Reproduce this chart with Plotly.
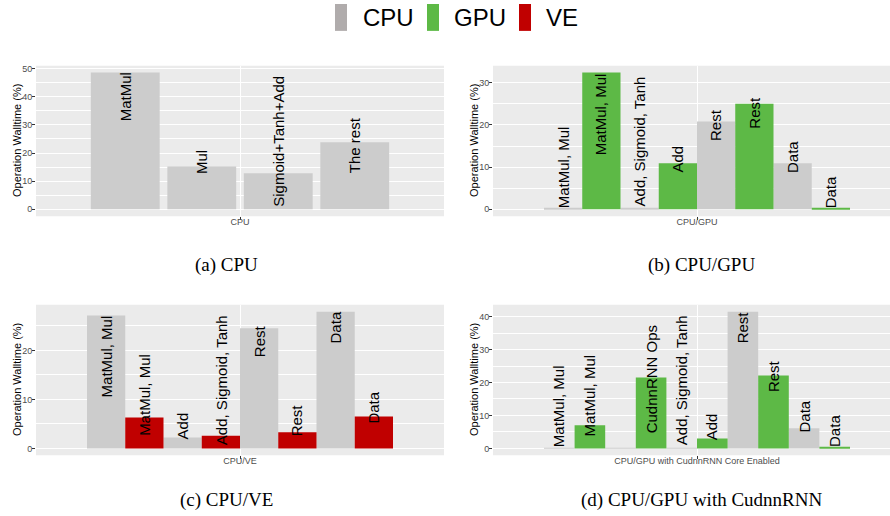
import plotly.graph_objects as go

W, H = 890, 516

COLORS = {"CPU": "#CCCCCC", "GPU": "#5DB946", "VE": "#C00000"}
LEGEND_COLORS = {"CPU": "#B0ACAC", "GPU": "#5DB946", "VE": "#C00000"}

# ---- (a) CPU ----
a_devices = ["CPU", "CPU", "CPU", "CPU"]
a_ops = ["MatMul", "Mul", "Sigmoid+Tanh+Add", "The rest"]
a_values = [48.6, 15.2, 12.8, 23.8]
a_label_mid = [39.9, 16.7, 24.1, 22.7]

# ---- (b) CPU/GPU ----
b_devices = ["CPU", "GPU", "CPU", "GPU", "CPU", "GPU", "CPU", "GPU"]
b_ops = ["MatMul, Mul", "MatMul, Mul", "Add, Sigmoid, Tanh", "Add",
         "Rest", "Rest", "Data", "Data"]
b_values = [0.15, 32.4, 0.15, 10.9, 20.8, 25.0, 10.9, 0.25]
b_label_mid = [10.0, 22.6, 16.0, 12.0, 20.0, 23.0, 12.3, 4.0]

# ---- (c) CPU/VE ----
c_devices = ["CPU", "VE", "CPU", "VE", "CPU", "VE", "CPU", "VE"]
c_ops = ["MatMul, Mul", "MatMul, Mul", "Add", "Add, Sigmoid, Tanh",
         "Rest", "Rest", "Data", "Data"]
c_values = [27.1, 6.3, 2.2, 2.6, 24.5, 3.3, 27.9, 6.5]
c_label_mid = [18.8, 11.0, 4.6, 13.9, 21.9, 5.8, 24.6, 8.3]

# ---- (d) CPU/GPU with CudnnRNN core ----
d_devices = ["CPU", "GPU", "CPU", "GPU", "CPU", "GPU", "CPU", "GPU", "CPU", "GPU"]
d_ops = ["MatMul, Mul", "MatMul, Mul", "", "CudnnRNN Ops", "Add, Sigmoid, Tanh",
         "Add", "Rest", "Rest", "Data", "Data"]
d_values = [0.15, 7.0, 0.15, 21.5, 0.15, 3.0, 41.5, 22.1, 6.1, 0.25]
d_label_mid = [12.9, 16.0, 0.0, 21.0, 20.6, 6.5, 36.7, 21.8, 9.7, 5.2]

panel_axis_labels = ["CPU", "CPU/GPU", "CPU/VE", "CPU/GPU with CudnnRNN Core Enabled"]
captions = ["(a) CPU", "(b) CPU/GPU", "(c) CPU/VE", "(d) CPU/GPU with CudnnRNN"]

# panel rectangles in pixels: (left, right, top, bottom)
panel_px = [(36, 444, 64, 215), (493, 890, 64, 215),
            (36, 444, 304, 455), (493, 890, 304, 455)]
PX_PER_UNIT = 408 / 1.2   # one category slot spans 1.2 x-units across 408 px

panels = [
    (a_devices, a_ops, a_values, a_label_mid, 0.9),
    (b_devices, b_ops, b_values, b_label_mid, 1.0),
    (c_devices, c_ops, c_values, c_label_mid, 1.0),
    (d_devices, d_ops, d_values, d_label_mid, 1.0),
]


def px_x(p):
    return p / W


def px_y(p):
    return 1 - p / H


fig = go.Figure()
annotations = []
shapes = []

for k, (devs, ops, vals, mids, fill) in enumerate(panels):
    n = len(vals)
    slot = 0.9 / n
    centers = [1 - 0.45 + (i + 0.5) * slot for i in range(n)]
    xa = "x" if k == 0 else f"x{k + 1}"
    ya = "y" if k == 0 else f"y{k + 1}"
    for dev in ["CPU", "GPU", "VE"]:
        idx = [i for i in range(n) if devs[i] == dev]
        if not idx:
            continue
        fig.add_trace(go.Bar(
            x=[centers[i] for i in idx],
            y=[vals[i] for i in idx],
            width=[slot * fill] * len(idx),
            marker=dict(color=COLORS[dev], line=dict(width=0)),
            xaxis=xa, yaxis=ya, showlegend=False, name=dev,
        ))
    for i in range(n):
        if not ops[i]:
            continue
        annotations.append(dict(
            x=centers[i], y=mids[i], xref=xa, yref=ya, text=ops[i],
            textangle=-90, showarrow=False, xanchor="center", yanchor="middle",
            font=dict(family="Liberation Sans", size=15, color="black"),
        ))

    left, right, top, bottom = panel_px[k]
    vmax = max(vals)
    x_hi = 0.4 + (right - left) / PX_PER_UNIT
    axis_x = dict(
        domain=[px_x(left), px_x(right)], range=[0.4, x_hi],
        tickvals=[1], ticktext=[panel_axis_labels[k]],
        ticks="outside", ticklen=3, tickwidth=1, tickcolor="#333333",
        tickfont=dict(family="Liberation Sans", size=9, color="#4D4D4D"),
        ticklabelstandoff=-6,
        showgrid=True, gridcolor="white", gridwidth=1.1,
        zeroline=False, showline=False, anchor=ya, fixedrange=True,
    )
    axis_y = dict(
        domain=[px_y(bottom), px_y(top)], range=[-0.05 * vmax, 1.05 * vmax],
        tick0=0, dtick=10,
        ticks="outside", ticklen=3, tickwidth=1, tickcolor="#333333",
        tickfont=dict(family="Liberation Sans", size=9, color="#4D4D4D"),
        ticklabelstandoff=-2,
        showgrid=True, gridcolor="white", gridwidth=1.1,
        minor=dict(dtick=5, tick0=0, showgrid=True, gridcolor="white", gridwidth=0.5),
        zeroline=False, showline=False, anchor=xa, fixedrange=True,
    )
    fig.update_layout(**{("xaxis" if k == 0 else f"xaxis{k + 1}"): axis_x,
                         ("yaxis" if k == 0 else f"yaxis{k + 1}"): axis_y})

    # grey panel background
    shapes.append(dict(type="rect", xref="paper", yref="paper", layer="below",
                       x0=px_x(left), x1=px_x(right), y0=px_y(bottom), y1=px_y(top),
                       fillcolor="#EBEBEB", line=dict(width=0)))
    # y-axis title
    annotations.append(dict(
        x=px_x(left - 19), y=px_y((top + bottom) / 2), xref="paper", yref="paper",
        text="Operation Walltime (%)", textangle=-90, showarrow=False,
        xanchor="center", yanchor="middle",
        font=dict(family="Liberation Sans", size=11, color="black"),
    ))
    # sub-figure caption
    annotations.append(dict(
        x=px_x(226 if k % 2 == 0 else 701), y=px_y(264 if k < 2 else 500),
        xref="paper", yref="paper", text=captions[k], showarrow=False,
        xanchor="center", yanchor="middle",
        font=dict(family="Liberation Serif", size=19, color="black"),
    ))

# legend drawn at the top
legend_items = [("CPU", 335, 361), ("GPU", 427, 452), ("VE", 519, 544)]
for name, sx, tx in legend_items:
    shapes.append(dict(type="rect", xref="paper", yref="paper",
                       x0=px_x(sx), x1=px_x(sx + 12), y0=px_y(29), y1=px_y(2),
                       fillcolor=LEGEND_COLORS[name], line=dict(width=0)))
    annotations.append(dict(
        x=px_x(tx), y=px_y(16), xref="paper", yref="paper", text=name,
        showarrow=False, xanchor="left", yanchor="middle",
        font=dict(family="Liberation Sans", size=24, color="black"),
    ))

fig.update_layout(
    width=W, height=H, margin=dict(l=0, r=0, t=0, b=0),
    paper_bgcolor="white", plot_bgcolor="rgba(0,0,0,0)",
    barmode="overlay", showlegend=False,
    annotations=annotations, shapes=shapes,
)

fig.write_html("out.html")
